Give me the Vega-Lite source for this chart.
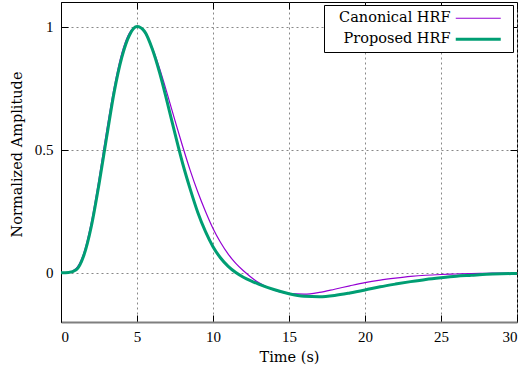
{
  "$schema": "https://vega.github.io/schema/vega-lite/v6.json",
  "width": 456,
  "height": 320,
  "autosize": {"type": "none"},
  "padding": {"left": 61, "top": 2, "right": 9, "bottom": 46},
  "config": {
    "font": "Liberation Serif",
    "view": {"stroke": "black", "strokeWidth": 1},
    "axis": {
      "labelFont": "Liberation Serif",
      "titleFont": "DejaVu Serif",
      "labelFontSize": 15,
      "titleFontSize": 14.5,
      "titleFontWeight": "normal",
      "labelColor": "black",
      "titleColor": "black",
      "tickColor": "black",
      "gridColor": "#888888",
      "gridDash": [2, 3],
      "gridWidth": 1,
      "gridOpacity": 1
    },
    "legend": {
      "labelFont": "DejaVu Serif",
      "labelFontSize": 14.5
    }
  },
  "data": {
    "values": [
      {"t": 0, "v": 0, "s": "Canonical HRF"},
      {"t": 0.5, "v": 0.001, "s": "Canonical HRF"},
      {"t": 1, "v": 0.0175, "s": "Canonical HRF"},
      {"t": 1.5, "v": 0.08, "s": "Canonical HRF"},
      {"t": 2, "v": 0.206, "s": "Canonical HRF"},
      {"t": 2.5, "v": 0.381, "s": "Canonical HRF"},
      {"t": 3, "v": 0.575, "s": "Canonical HRF"},
      {"t": 3.5, "v": 0.753, "s": "Canonical HRF"},
      {"t": 4, "v": 0.891, "s": "Canonical HRF"},
      {"t": 4.5, "v": 0.974, "s": "Canonical HRF"},
      {"t": 5, "v": 1.0, "s": "Canonical HRF"},
      {"t": 5.5, "v": 0.977, "s": "Canonical HRF"},
      {"t": 6, "v": 0.915, "s": "Canonical HRF"},
      {"t": 6.5, "v": 0.827, "s": "Canonical HRF"},
      {"t": 7, "v": 0.725, "s": "Canonical HRF"},
      {"t": 7.5, "v": 0.618, "s": "Canonical HRF"},
      {"t": 8, "v": 0.514, "s": "Canonical HRF"},
      {"t": 8.5, "v": 0.416, "s": "Canonical HRF"},
      {"t": 9, "v": 0.328, "s": "Canonical HRF"},
      {"t": 9.5, "v": 0.25, "s": "Canonical HRF"},
      {"t": 10, "v": 0.18, "s": "Canonical HRF"},
      {"t": 10.5, "v": 0.123, "s": "Canonical HRF"},
      {"t": 11, "v": 0.076, "s": "Canonical HRF"},
      {"t": 11.5, "v": 0.038, "s": "Canonical HRF"},
      {"t": 12, "v": 0.008, "s": "Canonical HRF"},
      {"t": 13, "v": -0.04, "s": "Canonical HRF"},
      {"t": 14, "v": -0.07, "s": "Canonical HRF"},
      {"t": 15, "v": -0.085, "s": "Canonical HRF"},
      {"t": 16, "v": -0.087, "s": "Canonical HRF"},
      {"t": 17, "v": -0.08, "s": "Canonical HRF"},
      {"t": 18, "v": -0.067, "s": "Canonical HRF"},
      {"t": 19, "v": -0.053, "s": "Canonical HRF"},
      {"t": 20, "v": -0.04, "s": "Canonical HRF"},
      {"t": 21, "v": -0.03, "s": "Canonical HRF"},
      {"t": 22, "v": -0.022, "s": "Canonical HRF"},
      {"t": 23, "v": -0.015, "s": "Canonical HRF"},
      {"t": 24, "v": -0.01, "s": "Canonical HRF"},
      {"t": 25, "v": -0.007, "s": "Canonical HRF"},
      {"t": 26, "v": -0.005, "s": "Canonical HRF"},
      {"t": 27, "v": -0.003, "s": "Canonical HRF"},
      {"t": 28, "v": -0.002, "s": "Canonical HRF"},
      {"t": 29, "v": -0.001, "s": "Canonical HRF"},
      {"t": 30, "v": -0.001, "s": "Canonical HRF"},
      {"t": 0, "v": 0, "s": "Proposed HRF"},
      {"t": 0.5, "v": 0.001, "s": "Proposed HRF"},
      {"t": 1, "v": 0.012, "s": "Proposed HRF"},
      {"t": 1.5, "v": 0.07, "s": "Proposed HRF"},
      {"t": 2, "v": 0.19, "s": "Proposed HRF"},
      {"t": 2.5, "v": 0.36, "s": "Proposed HRF"},
      {"t": 3, "v": 0.55, "s": "Proposed HRF"},
      {"t": 3.5, "v": 0.735, "s": "Proposed HRF"},
      {"t": 4, "v": 0.875, "s": "Proposed HRF"},
      {"t": 4.5, "v": 0.965, "s": "Proposed HRF"},
      {"t": 5, "v": 1.0, "s": "Proposed HRF"},
      {"t": 5.5, "v": 0.98, "s": "Proposed HRF"},
      {"t": 6, "v": 0.91, "s": "Proposed HRF"},
      {"t": 6.5, "v": 0.81, "s": "Proposed HRF"},
      {"t": 7, "v": 0.69, "s": "Proposed HRF"},
      {"t": 7.5, "v": 0.565, "s": "Proposed HRF"},
      {"t": 8, "v": 0.445, "s": "Proposed HRF"},
      {"t": 8.5, "v": 0.34, "s": "Proposed HRF"},
      {"t": 9, "v": 0.245, "s": "Proposed HRF"},
      {"t": 9.5, "v": 0.168, "s": "Proposed HRF"},
      {"t": 10, "v": 0.106, "s": "Proposed HRF"},
      {"t": 10.5, "v": 0.06, "s": "Proposed HRF"},
      {"t": 11, "v": 0.026, "s": "Proposed HRF"},
      {"t": 11.5, "v": 0.001, "s": "Proposed HRF"},
      {"t": 12, "v": -0.018, "s": "Proposed HRF"},
      {"t": 12.5, "v": -0.033, "s": "Proposed HRF"},
      {"t": 13, "v": -0.046, "s": "Proposed HRF"},
      {"t": 14, "v": -0.068, "s": "Proposed HRF"},
      {"t": 15, "v": -0.085, "s": "Proposed HRF"},
      {"t": 16, "v": -0.095, "s": "Proposed HRF"},
      {"t": 17, "v": -0.097, "s": "Proposed HRF"},
      {"t": 18, "v": -0.092, "s": "Proposed HRF"},
      {"t": 19, "v": -0.082, "s": "Proposed HRF"},
      {"t": 20, "v": -0.07, "s": "Proposed HRF"},
      {"t": 21, "v": -0.057, "s": "Proposed HRF"},
      {"t": 22, "v": -0.046, "s": "Proposed HRF"},
      {"t": 23, "v": -0.036, "s": "Proposed HRF"},
      {"t": 24, "v": -0.027, "s": "Proposed HRF"},
      {"t": 25, "v": -0.02, "s": "Proposed HRF"},
      {"t": 26, "v": -0.014, "s": "Proposed HRF"},
      {"t": 27, "v": -0.01, "s": "Proposed HRF"},
      {"t": 28, "v": -0.006, "s": "Proposed HRF"},
      {"t": 29, "v": -0.004, "s": "Proposed HRF"},
      {"t": 30, "v": -0.003, "s": "Proposed HRF"}
    ]
  },
  "resolve": {"axis": {"x": "independent", "y": "independent"}},
  "layer": [
    {
      "mark": {"type": "line", "interpolate": "monotone"},
      "encoding": {
        "x": {
          "field": "t", "type": "quantitative",
          "scale": {"domain": [0, 30], "nice": false},
          "axis": {
            "orient": "bottom",
            "title": "Time (s)",
            "values": [0, 5, 10, 15, 20, 25, 30],
            "format": "~g",
            "grid": true,
            "tickSize": -7,
            "labelPadding": 14,
            "titlePadding": 6,
            "domainColor": "#7f7f7f",
            "domainWidth": 2
          }
        },
        "y": {
          "field": "v", "type": "quantitative",
          "scale": {"domain": [-0.2, 1.1], "nice": false, "zero": false},
          "axis": {
            "orient": "left",
            "title": "Normalized Amplitude",
            "values": [0, 0.5, 1],
            "format": "~g",
            "grid": true,
            "tickSize": -7,
            "labelPadding": 15,
            "titlePadding": 10,
            "titleY": 152,
            "domainColor": "black"
          }
        },
        "color": {
          "field": "s", "type": "nominal",
          "scale": {"domain": ["Canonical HRF", "Proposed HRF"], "range": ["#9400d3", "#009e73"]},
          "legend": {
            "title": null,
            "orient": "none",
            "legendX": 263,
            "legendY": 3,
            "symbolType": "M-5,0H5",
            "symbolSize": 81,
            "labelAlign": "right",
            "labelOffset": -35,
            "symbolOffset": 141,
            "rowPadding": 6,
            "padding": 6,
            "strokeColor": "black",
            "fillColor": "white",
            "labelColor": "black"
          }
        },
        "strokeWidth": {
          "field": "s", "type": "nominal",
          "scale": {"domain": ["Canonical HRF", "Proposed HRF"], "range": [1.2, 3]},
          "legend": {
            "title": null,
            "orient": "none",
            "legendX": 263,
            "legendY": 3,
            "symbolType": "M-5,0H5",
            "symbolSize": 81,
            "labelAlign": "right",
            "labelOffset": -35,
            "symbolOffset": 141,
            "rowPadding": 6,
            "padding": 6,
            "strokeColor": "black",
            "fillColor": "white",
            "labelColor": "black"
          }
        }
      }
    },
    {
      "mark": {"type": "line", "opacity": 0},
      "encoding": {
        "x": {
          "field": "t", "type": "quantitative",
          "axis": {"orient": "top", "title": null, "values": [0, 5, 10, 15, 20, 25, 30], "labels": false, "grid": false, "domain": false, "tickSize": -7}
        },
        "y": {
          "field": "v", "type": "quantitative",
          "axis": {"orient": "right", "title": null, "values": [0, 0.5, 1], "labels": false, "grid": false, "domain": false, "tickSize": -7}
        },
        "detail": {"field": "s"}
      }
    }
  ]
}
